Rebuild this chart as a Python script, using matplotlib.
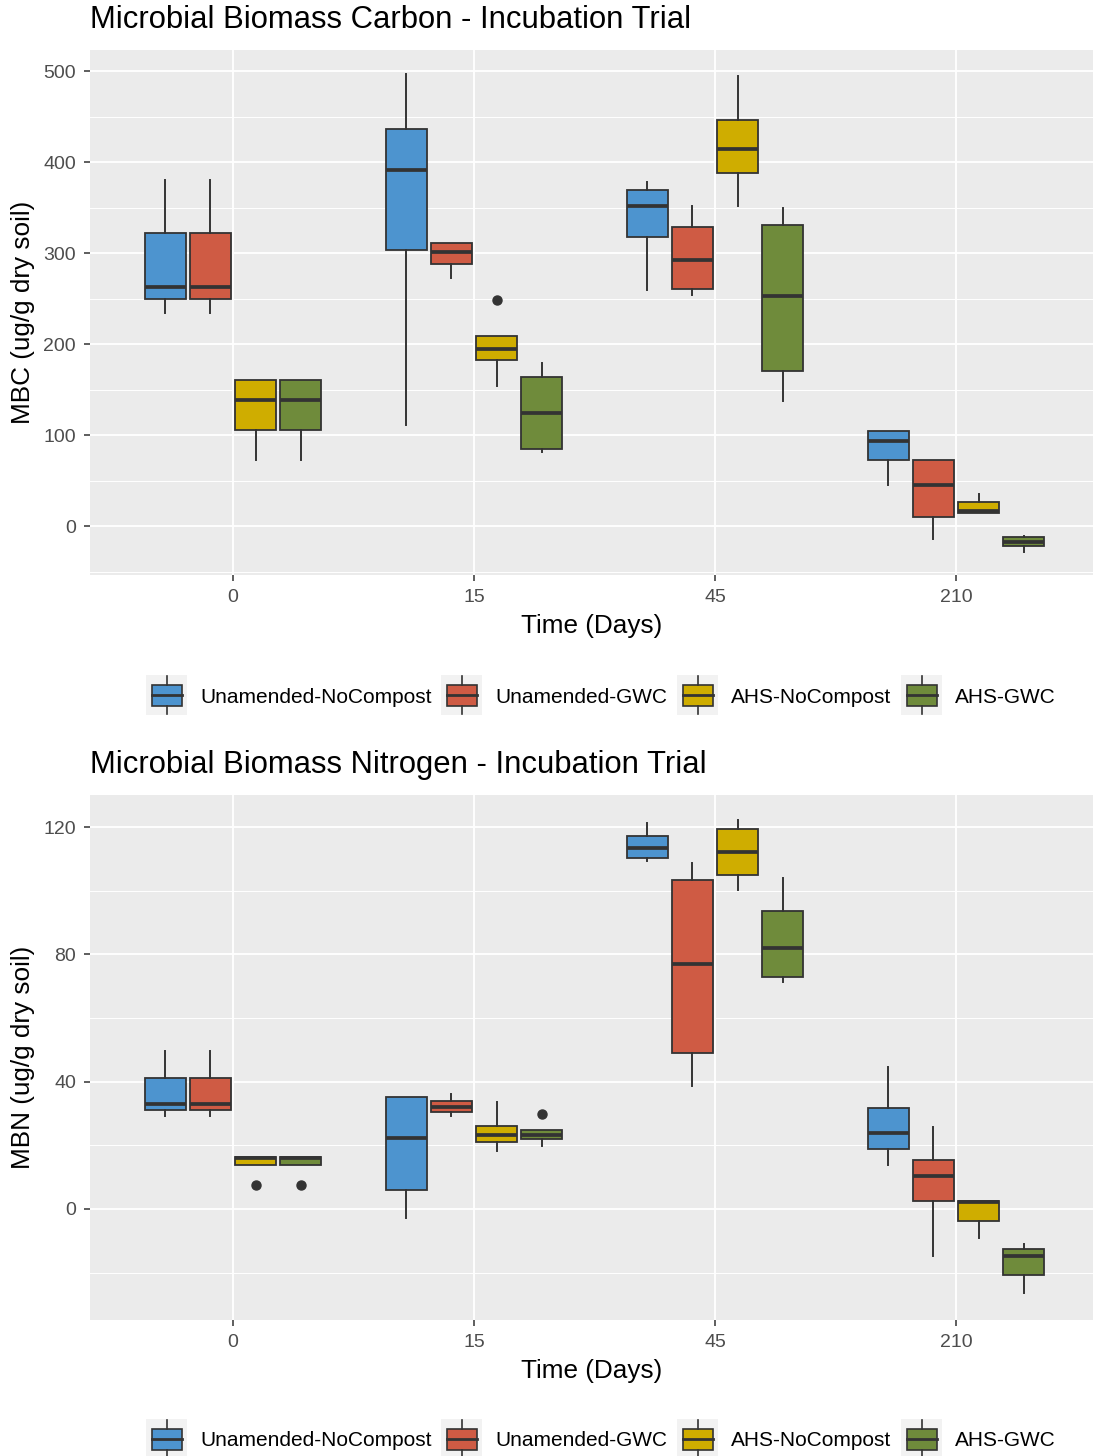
import matplotlib
matplotlib.use("Agg")
import matplotlib.pyplot as plt
from matplotlib.patches import Patch, Rectangle
from matplotlib.lines import Line2D
from matplotlib.legend_handler import HandlerBase

plt.rcParams["font.family"] = ["Liberation Sans", "DejaVu Sans"]

# ---------------- data ----------------
days = ["0", "15", "45", "210"]
treatments = ["Unamended-NoCompost", "Unamended-GWC", "AHS-NoCompost", "AHS-GWC"]
colors = ["#4D94CF", "#CF5B44", "#CFAD00", "#6F8B3B"]

# each entry: (whisker low, q1, median, q3, whisker high), one per day
mbc_unam_nc = [(234, 249, 263, 322, 380), (111, 303, 391, 436, 497), (259, 318, 352, 369, 378), (45, 73, 93, 104, 104)]
mbc_unam_gwc = [(234, 249, 263, 322, 380), (273, 288, 301, 311, 311), (254, 260, 292, 329, 352), (-14, 10, 45, 73, 73)]
mbc_ahs_nc = [(73, 106, 139, 160, 160), (154, 183, 195, 209, 209), (352, 388, 414, 446, 494), (14, 14, 16, 26, 35)]
mbc_ahs_gwc = [(73, 106, 139, 160, 160), (81, 85, 124, 164, 179), (137, 170, 253, 331, 350), (-28, -22, -17, -12, -11)]
mbc_outliers = {(2, 1): [248]}   # (treatment index, day index): values

mbn_unam_nc = [(29.3, 31.1, 32.9, 41.3, 49.6), (-2.9, 6.0, 22.2, 35.3, 35.3), (109.3, 110.4, 113.5, 117.3, 121.4), (13.8, 18.7, 24.0, 31.6, 44.7)]
mbn_unam_gwc = [(29.3, 31.1, 32.9, 41.3, 49.6), (29.3, 30.4, 32.1, 33.9, 36.1), (38.6, 48.9, 76.9, 103.4, 108.6), (-14.8, 2.6, 10.4, 15.4, 25.9)]
mbn_ahs_nc = [(13.8, 13.8, 15.9, 16.3, 16.3), (18.2, 21.2, 23.2, 26.2, 33.7), (100.2, 104.9, 112.3, 119.3, 122.4), (-9.2, -3.7, 2.1, 2.5, 2.5)]
mbn_ahs_gwc = [(13.8, 13.8, 15.9, 16.3, 16.3), (19.9, 21.9, 23.2, 24.8, 24.8), (71.2, 73.0, 81.9, 93.6, 104.1), (-26.5, -20.7, -14.7, -12.6, -11.0)]
mbn_outliers = {(2, 0): [7.5], (3, 0): [7.5], (3, 1): [29.8]}

DARK = "#333333"
PANEL_BG = "#EBEBEB"


class BoxKey(HandlerBase):
    # legend key that looks like a little boxplot on a grey square (sizes in points)
    def create_artists(self, legend, orig_handle, xdescent, ydescent, width, height, fontsize, trans):
        cx = -xdescent + width / 2
        cy = -ydescent + height / 2
        bw, bh = 29.5, 28.8      # grey key square
        kw, kh = 21.6, 15.0      # box inside
        wh = 13.6                # whisker reach from centre
        bg = Rectangle((cx - bw / 2, cy - bh / 2), bw, bh, fc="#F2F2F2", ec="none", transform=trans)
        box = Rectangle((cx - kw / 2, cy - kh / 2), kw, kh,
                        fc=orig_handle.get_facecolor(), ec=DARK, lw=1.2, transform=trans)
        med = Line2D([cx - kw / 2, cx + kw / 2], [cy, cy], color=DARK, lw=2.0, transform=trans)
        w1 = Line2D([cx, cx], [cy - wh, cy - kh / 2], color=DARK, lw=1.2, transform=trans)
        w2 = Line2D([cx, cx], [cy + kh / 2, cy + wh], color=DARK, lw=1.2, transform=trans)
        return [bg, box, med, w1, w2]


def draw_panel(ax, series, outliers, ylim, major, minor, ylabel):
    ax.set_facecolor(PANEL_BG)
    for s in ax.spines.values():
        s.set_visible(False)
    ax.set_axisbelow(True)
    slot = 0.75 / len(treatments)
    for j, (vals, col) in enumerate(zip(series, colors)):
        stats = []
        for i, (lo, q1, med, q3, hi) in enumerate(vals):
            stats.append(dict(whislo=lo, q1=q1, med=med, q3=q3, whishi=hi,
                              fliers=outliers.get((j, i), [])))
        pos = [i + (j - 1.5) * slot for i in range(len(days))]
        ax.bxp(stats, positions=pos, widths=0.17, patch_artist=True, showcaps=False,
               boxprops=dict(facecolor=col, edgecolor=DARK, linewidth=1.3),
               medianprops=dict(color=DARK, linewidth=2.7, solid_capstyle="butt"),
               whiskerprops=dict(color=DARK, linewidth=1.4),
               flierprops=dict(marker="o", markerfacecolor=DARK, markeredgecolor=DARK, markersize=6.5),
               manage_ticks=False)
    ax.set_xlim(-0.593, 3.568)
    ax.set_ylim(*ylim)
    ax.set_xticks(range(len(days)))
    ax.set_xticklabels(days)
    ax.set_yticks(major)
    ax.set_yticks(minor, minor=True)
    ax.grid(which="major", color="white", linewidth=1.3)
    ax.grid(which="minor", axis="y", color="white", linewidth=0.7)
    ax.tick_params(which="major", length=4, width=1.1, color=DARK, labelcolor="#4D4D4D", labelsize=14, pad=6)
    ax.tick_params(which="minor", length=0)
    ax.set_xlabel("Time (Days)", fontsize=18.8, color="black", labelpad=6)
    ax.set_ylabel(ylabel, fontsize=18.8, color="black", labelpad=6)


fig = plt.figure(figsize=(10.94, 14.56), dpi=100)
W, H = 1094.0, 1456.0

ax1 = fig.add_axes([90 / W, 1 - 575 / H, 1003 / W, 525 / H])
draw_panel(ax1, [mbc_unam_nc, mbc_unam_gwc, mbc_ahs_nc, mbc_ahs_gwc], mbc_outliers,
           (-53.8, 523.1), [0, 100, 200, 300, 400, 500], [-50, 50, 150, 250, 350, 450],
           "MBC (ug/g dry soil)")

ax2 = fig.add_axes([90 / W, 1 - 1320 / H, 1003 / W, 525 / H])
draw_panel(ax2, [mbn_unam_nc, mbn_unam_gwc, mbn_ahs_nc, mbn_ahs_gwc], mbn_outliers,
           (-34.9, 130.1), [0, 40, 80, 120], [-20, 20, 60, 100],
           "MBN (ug/g dry soil)")

fig.text(90 / W, 1 - 20 / H, "Microbial Biomass Carbon - Incubation Trial", fontsize=22.3, va="center", ha="left")
fig.text(90 / W, 1 - 765 / H, "Microbial Biomass Nitrogen - Incubation Trial", fontsize=22.3, va="center", ha="left")

handles = [Patch(facecolor=c, label=t) for t, c in zip(treatments, colors)]
for ycen in (697, 1441):
    fig.legend(handles=handles, loc="center", bbox_to_anchor=(601 / W, 1 - ycen / H), ncol=4,
               frameon=False, fontsize=15, handler_map={Patch: BoxKey()},
               handlelength=1.97, handletextpad=0.62, columnspacing=0.47,
               borderaxespad=0, borderpad=0)

fig.savefig("out.png", dpi=100, facecolor="white")
